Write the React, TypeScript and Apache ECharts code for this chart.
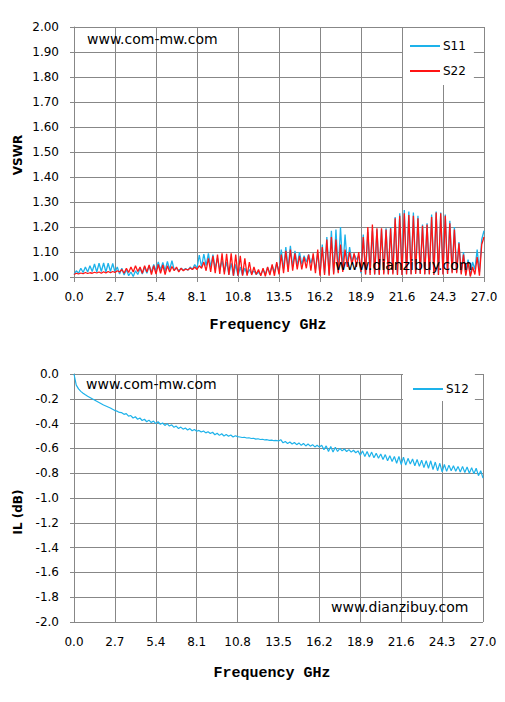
import React, { useEffect, useRef } from "react";
import * as echarts from "echarts";

const FREQ_STEP = 0.15;
const X_TICKS = ["0.0", "2.7", "5.4", "8.1", "10.8", "13.5", "16.2", "18.9", "21.6", "24.3", "27.0"];

const S11 = [
  1.010, 1.025, 1.015, 1.035, 1.018, 1.040, 1.020, 1.045, 1.022, 1.052, 1.020, 1.055, 1.022, 1.056, 1.020, 1.055, 1.022, 1.054,
  1.020, 1.040, 1.012, 1.035, 1.008, 1.030, 1.005, 1.020, 1.002, 1.025, 1.010, 1.035, 1.012, 1.040, 1.015, 1.045, 1.020, 1.050,
  1.025, 1.060, 1.028, 1.058, 1.025, 1.062, 1.030, 1.065, 1.028, 1.035, 1.025, 1.035, 1.028, 1.034, 1.027, 1.040, 1.030, 1.050,
  1.035, 1.088, 1.040, 1.092, 1.045, 1.095, 1.040, 1.090, 1.035, 1.075, 1.030, 1.065, 1.020, 1.060, 1.010, 1.055, 1.005, 1.050,
  1.005, 1.040, 1.008, 1.035, 1.010, 1.030, 1.012, 1.025, 1.010, 1.020, 1.008, 1.030, 1.012, 1.038, 1.015, 1.045, 1.020, 1.055,
  1.020, 1.110, 1.030, 1.120, 1.035, 1.125, 1.040, 1.105, 1.045, 1.100, 1.050, 1.085, 1.060, 1.090, 1.055, 1.085, 1.030, 1.095,
  1.010, 1.130, 1.015, 1.160, 1.010, 1.185, 1.015, 1.190, 1.020, 1.200, 1.030, 1.170, 1.050, 1.120, 1.060, 1.090, 1.070, 1.085,
  1.015, 1.170, 1.010, 1.180, 1.015, 1.185, 1.010, 1.190, 1.012, 1.190, 1.015, 1.195, 1.012, 1.200, 1.015, 1.240, 1.012, 1.255,
  1.010, 1.268, 1.012, 1.262, 1.012, 1.258, 1.015, 1.245, 1.015, 1.210, 1.012, 1.215, 1.012, 1.250, 1.010, 1.262, 1.010, 1.258,
  1.012, 1.250, 1.015, 1.225, 1.020, 1.200, 1.020, 1.140, 1.015, 1.100, 1.010, 1.070, 1.005, 1.060, 1.030, 1.110, 1.020, 1.150,
  1.185,
];

const S22 = [
  1.010, 1.015, 1.012, 1.016, 1.013, 1.018, 1.014, 1.017, 1.015, 1.019, 1.016, 1.020, 1.015, 1.021, 1.016, 1.022, 1.017, 1.022,
  1.018, 1.025, 1.020, 1.030, 1.015, 1.035, 1.018, 1.040, 1.020, 1.045, 1.022, 1.040, 1.015, 1.045, 1.020, 1.048, 1.010, 1.045,
  1.012, 1.050, 1.015, 1.048, 1.010, 1.045, 1.020, 1.042, 1.025, 1.040, 1.020, 1.035, 1.025, 1.032, 1.028, 1.036, 1.030, 1.040,
  1.030, 1.045, 1.035, 1.060, 1.025, 1.075, 1.020, 1.085, 1.015, 1.090, 1.012, 1.095, 1.010, 1.093, 1.008, 1.095, 1.005, 1.090,
  1.005, 1.085, 1.005, 1.075, 1.005, 1.060, 1.008, 1.040, 1.010, 1.030, 1.005, 1.035, 1.003, 1.040, 1.008, 1.050, 1.005, 1.060,
  1.010, 1.090, 1.015, 1.105, 1.020, 1.110, 1.025, 1.095, 1.030, 1.085, 1.030, 1.080, 1.035, 1.090, 1.025, 1.095, 1.015, 1.110,
  1.005, 1.120, 1.008, 1.150, 1.005, 1.160, 1.010, 1.150, 1.015, 1.130, 1.020, 1.110, 1.040, 1.100, 1.050, 1.095, 1.040, 1.100,
  1.020, 1.160, 1.010, 1.200, 1.008, 1.210, 1.010, 1.195, 1.008, 1.195, 1.010, 1.190, 1.010, 1.195, 1.010, 1.235, 1.008, 1.245,
  1.008, 1.255, 1.010, 1.248, 1.010, 1.245, 1.012, 1.235, 1.012, 1.205, 1.010, 1.210, 1.010, 1.240, 1.008, 1.258, 1.008, 1.255,
  1.010, 1.245, 1.012, 1.215, 1.015, 1.190, 1.015, 1.135, 1.010, 1.090, 1.005, 1.060, 1.002, 1.040, 1.010, 1.080, 1.005, 1.130,
  1.160,
];

const S12 = [
  0.0, -0.09, -0.12, -0.14, -0.155, -0.168, -0.18, -0.19, -0.2, -0.21, -0.22, -0.23, -0.24, -0.25, -0.258, -0.266, -0.274, -0.285,
  -0.295, -0.3, -0.31, -0.312, -0.325, -0.32, -0.34, -0.335, -0.355, -0.345, -0.365, -0.355, -0.375, -0.365, -0.385, -0.372, -0.392, -0.38,
  -0.4, -0.385, -0.405, -0.395, -0.415, -0.4, -0.42, -0.41, -0.43, -0.42, -0.44, -0.428, -0.445, -0.435, -0.452, -0.44, -0.458, -0.448,
  -0.462, -0.455, -0.468, -0.46, -0.475, -0.466, -0.48, -0.47, -0.49, -0.478, -0.495, -0.482, -0.5, -0.488, -0.502, -0.492, -0.508, -0.498,
  -0.505, -0.508, -0.512, -0.51, -0.516, -0.514, -0.52, -0.518, -0.525, -0.522, -0.528, -0.526, -0.532, -0.53, -0.535, -0.533, -0.538, -0.536,
  -0.54, -0.53, -0.555, -0.545, -0.56, -0.548, -0.565, -0.552, -0.57, -0.556, -0.575, -0.56, -0.58, -0.565, -0.582, -0.57, -0.588, -0.575,
  -0.59, -0.575, -0.61, -0.58, -0.625, -0.585, -0.63, -0.59, -0.625, -0.6, -0.62, -0.605, -0.625, -0.61, -0.63, -0.615, -0.635, -0.62,
  -0.655, -0.62, -0.665, -0.625, -0.67, -0.63, -0.675, -0.64, -0.68, -0.645, -0.69, -0.65, -0.7, -0.66, -0.705, -0.665, -0.72, -0.665,
  -0.73, -0.67, -0.735, -0.68, -0.725, -0.685, -0.74, -0.69, -0.745, -0.695, -0.755, -0.7, -0.76, -0.7, -0.77, -0.71, -0.78, -0.72,
  -0.79, -0.73, -0.785, -0.735, -0.78, -0.74, -0.785, -0.745, -0.79, -0.745, -0.795, -0.75, -0.8, -0.755, -0.805, -0.76, -0.82, -0.78,
  -0.84,
];

const BLUE = "#1DB2EA";
const RED = "#FF1414";
const GRID_C = "#878787";
const FONT = "DejaVu Sans";

export default function App() {
  const ref = useRef<HTMLDivElement>(null);
  useEffect(() => {
    if (!ref.current) return;
    const chart = echarts.init(ref.current, null, { renderer: "svg" });
    const freq = S11.map((_, i) => Math.round(i * FREQ_STEP * 1000) / 1000);
    const pts = (arr: number[]) => arr.map((v, i) => [freq[i], v]);

    const xAxisBase = (gridIndex: number) => ({
      type: "value" as const,
      gridIndex,
      min: 0,
      max: 27,
      interval: 2.7,
      axisLine: { show: true, lineStyle: { color: GRID_C, width: 1 } },
      axisTick: { show: true, length: 5, lineStyle: { color: GRID_C } },
      splitLine: { show: true, lineStyle: { color: GRID_C, width: 1 } },
      axisLabel: {
        margin: 14,
        color: "#000",
        fontFamily: FONT,
        fontSize: 12,
        formatter: (v: number) => {
          const idx = Math.round(v / 2.7);
          return X_TICKS[idx] ?? v.toFixed(1);
        },
      },
    });

    const legendCommon = {
      orient: "vertical",
      itemWidth: 30,
      itemHeight: 14,
      backgroundColor: "#fff",
      itemStyle: { opacity: 0 },
      textStyle: { color: "#000", fontFamily: FONT, fontSize: 12, padding: [0, 0, 0, -2] },
    };

    const option: any = {
      animation: false,
      backgroundColor: "#fff",
      grid: [
        { left: 74, top: 27, width: 410, height: 250, containLabel: false },
        { left: 74, top: 374, width: 409, height: 248, containLabel: false },
      ],
      xAxis: [xAxisBase(0), xAxisBase(1)],
      yAxis: [
        {
          type: "value",
          gridIndex: 0,
          min: 1,
          max: 2,
          interval: 0.1,
          axisLine: { show: true, lineStyle: { color: GRID_C } },
          axisTick: { show: true, length: 4, lineStyle: { color: GRID_C } },
          splitLine: { show: true, lineStyle: { color: GRID_C, width: 1 } },
          axisLabel: { margin: 15, color: "#000", fontFamily: FONT, fontSize: 12, formatter: (v: number) => v.toFixed(2) },
        },
        {
          type: "value",
          gridIndex: 1,
          min: -2,
          max: 0,
          interval: 0.2,
          axisLine: { show: true, lineStyle: { color: GRID_C } },
          axisTick: { show: true, length: 4, lineStyle: { color: GRID_C } },
          splitLine: { show: true, lineStyle: { color: GRID_C, width: 1 } },
          axisLabel: { margin: 15, color: "#000", fontFamily: FONT, fontSize: 12, formatter: (v: number) => v.toFixed(1) },
        },
      ],
      legend: [
        {
          ...legendCommon,
          data: ["S11", "S22"],
          left: 403,
          top: 28,
          padding: [12, 8, 8, 6],
          itemGap: 13,
        },
        {
          ...legendCommon,
          data: ["S12"],
          left: 403,
          top: 374,
          padding: [9, 6, 6, 9],
        },
      ],
      series: [
        {
          name: "S11",
          type: "line",
          xAxisIndex: 0,
          yAxisIndex: 0,
          symbol: "none",
          data: pts(S11),
          lineStyle: { color: BLUE, width: 1.3 },
          itemStyle: { color: BLUE },
          z: 2,
        },
        {
          name: "S22",
          type: "line",
          xAxisIndex: 0,
          yAxisIndex: 0,
          symbol: "none",
          data: pts(S22),
          lineStyle: { color: RED, width: 1.3 },
          itemStyle: { color: RED },
          z: 3,
        },
        {
          name: "S12",
          type: "line",
          xAxisIndex: 1,
          yAxisIndex: 1,
          symbol: "none",
          data: pts(S12),
          lineStyle: { color: BLUE, width: 1.2 },
          itemStyle: { color: BLUE },
          z: 2,
        },
      ],
      graphic: [
        { type: "text", left: 87, top: 32, z: 10, style: { text: "www.com-mw.com", fill: "#000", font: `14px "${FONT}"` } },
        { type: "text", left: 86, top: 377, z: 10, style: { text: "www.com-mw.com", fill: "#000", font: `14px "${FONT}"` } },
        { type: "text", left: 335, top: 258, z: 10, style: { text: "www.dianzibuy.com", fill: "#000", font: `14px "${FONT}"` } },
        { type: "text", left: 331, top: 600, z: 10, style: { text: "www.dianzibuy.com", fill: "#000", font: `14px "${FONT}"` } },
        {
          type: "text",
          x: 268,
          y: 325,
          z: 10,
          style: { text: "Frequency GHz", fill: "#000", font: `bold 15px "Liberation Mono"`, align: "center", verticalAlign: "middle" },
        },
        {
          type: "text",
          x: 272,
          y: 673,
          z: 10,
          style: { text: "Frequency GHz", fill: "#000", font: `bold 15px "Liberation Mono"`, align: "center", verticalAlign: "middle" },
        },
        {
          type: "text",
          x: 18,
          y: 155,
          rotation: Math.PI / 2,
          z: 10,
          style: { text: "VSWR", fill: "#000", font: `bold 12px "${FONT}"`, align: "center", verticalAlign: "middle" },
        },
        {
          type: "text",
          x: 18,
          y: 512,
          rotation: Math.PI / 2,
          z: 10,
          style: { text: "IL (dB)", fill: "#000", font: `bold 12px "${FONT}"`, align: "center", verticalAlign: "middle" },
        },
      ],
    };
    chart.setOption(option);
    return () => chart.dispose();
  }, []);
  return <div ref={ref} style={{ position: "fixed", left: 0, top: 0, width: 505, height: 702 }} />;
}
